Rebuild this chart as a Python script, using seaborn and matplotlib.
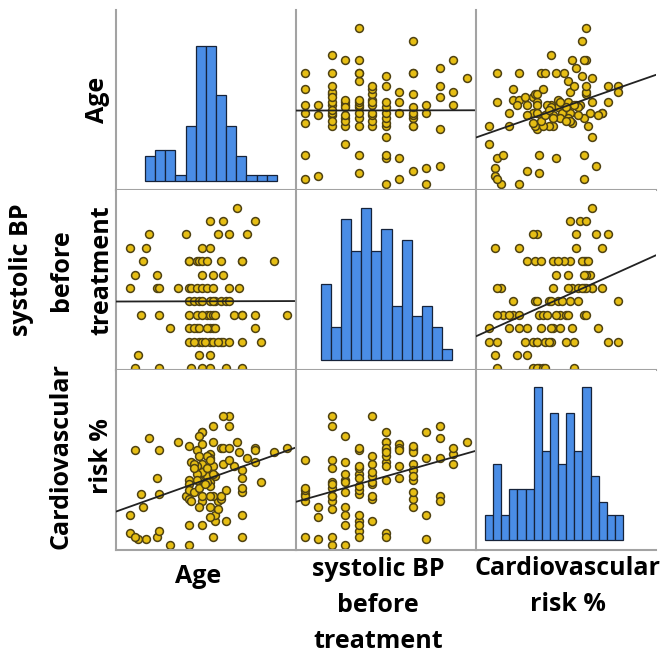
import matplotlib
matplotlib.use("Agg")
import matplotlib.pyplot as plt
import numpy as np
import pandas as pd
import seaborn as sns

# ---- data (one entry per subject) ----
age = [57,
       47, 52, 64,
       24, 38, 50, 54, 61,
       17, 23, 44, 47,
       22, 39, 42, 43, 44, 51, 59, 59, 71, 39, 46,
       27, 44, 52, 48, 19,
       17, 27, 28, 35, 39, 40, 42, 44, 46, 48, 54, 58,
       39, 41, 43, 47, 49, 51, 53, 54, 48, 44,
       21, 28, 39, 42, 46, 47, 48, 49, 56, 59, 59, 64, 76, 44,
       32, 39, 42, 47, 48, 64, 41, 43, 49, 46,
       39, 43, 44, 47, 48, 51, 52, 54, 59, 66, 41, 45, 50,
       20, 43, 47,
       19, 28, 40, 44, 47, 53, 59]
sbp = [165,
       160, 160, 160,
       155, 155, 155, 155, 155,
       150, 150, 150, 150,
       145, 145, 145, 145, 145, 145, 145, 145, 145, 145, 145,
       140, 140, 140, 140, 140,
       135, 135, 135, 135, 135, 135, 135, 135, 135, 135, 135, 135,
       130, 130, 130, 130, 130, 130, 130, 130, 130, 130,
       125, 125, 125, 125, 125, 125, 125, 125, 125, 125, 125, 125, 125, 125,
       120, 120, 120, 120, 120, 120, 120, 120, 120, 120,
       115, 115, 115, 115, 115, 115, 115, 115, 115, 115, 115, 115, 115,
       110, 110, 110,
       105, 105, 105, 105, 105, 105, 105]
risk = [26.5,
        23.5, 21.0, 25.0,
        27.5, 13.0, 12.0, 30.5, 22.5,
        8.5, 2.5, 29.0, 22.5,
        10.5, 12.5, 24.5, 17.0, 21.0, 25.0, 19.5, 14.0, 24.0, 25.5, 18.0,
        17.5, 26.0, 25.0, 20.5, 24.5,
        4.0, 3.0, 24.5, 26.5, 17.0, 21.5, 20.5, 29.0, 23.0, 26.5, 25.0, 24.0,
        16.0, 21.0, 23.0, 16.5, 18.0, 12.5, 7.0, 33.0, 13.0, 19.0,
        13.5, 4.5, 14.5, 18.5, 20.0, 15.5, 3.0, 7.0, 20.5, 17.5, 8.5, 24.5, 25.0, 6.0,
        1.0, 6.0, 17.0, 10.5, 18.5, 21.5, 14.0, 28.0, 8.5, 16.5,
        1.0, 15.0, 12.0, 13.0, 30.5, 13.0, 33.0, 22.0, 3.0, 16.5, 20.0, 16.0, 10.0,
        2.5, 10.5, 8.0,
        3.0, 13.5, 12.0, 13.0, 22.0, 14.5, 15.0]

variables = ["Age", "SBP", "Risk"]
labels = ["Age", "systolic BP\nbefore\ntreatment", "Cardiovascular\nrisk %"]
hist_edges = {
    "Age": [15 + 5 * i for i in range(14)],
    "SBP": [102.5 + 5 * i for i in range(14)],
    "Risk": [2 * i for i in range(18)],
}

df = pd.DataFrame({"Age": age, "SBP": sbp, "Risk": risk})

# axis ranges (style / layout)
scatter_x = {"Age": (11.75, 79.25), "SBP": (101.66, 168.45), "Risk": (-2.2, 42.4)}
scatter_y = {"Age": (14.73, 82.93), "SBP": (104.4, 171.6), "Risk": (-0.24, 44.3)}
hist_x = {"Age": (0.7, 89.4), "SBP": (90.3, 179.2), "Risk": (-2.2, 42.1)}
hist_y = {"Age": (-1.47, 27.9), "SBP": (-0.92, 15.63), "Risk": (-0.79, 13.36)}

sns.set_theme(style="white")
plt.rcParams["font.family"] = ["Open Sans", "DejaVu Sans"]

W, H = 664, 655
fig = plt.figure(figsize=(W / 100, H / 100), dpi=100)
col_x = [116, 296, 476]
row_y = [10, 190, 370]
S = 180

spine_col = "#a3a3a3"
bar_col = "#4a8de6"
pt_col = "#e6be14"
pt_edge = "#4f4212"

for r in range(3):
    for c in range(3):
        ax = fig.add_axes([col_x[c] / W, (H - row_y[r] - S) / H, S / W, S / H])
        vx, vy = variables[c], variables[r]
        if r == c:
            sns.histplot(data=df, x=vx, bins=hist_edges[vx], ax=ax,
                         color=bar_col, edgecolor="#16233a", linewidth=0.9,
                         alpha=1.0)
            ax.set_xlim(*hist_x[vx])
            ax.set_ylim(*hist_y[vx])
        else:
            sns.scatterplot(data=df, x=vx, y=vy, ax=ax, s=32,
                            color=pt_col, edgecolor=pt_edge, linewidth=1.1,
                            zorder=1)
            ax.set_xlim(*scatter_x[vx])
            ax.set_ylim(*scatter_y[vy])
            sns.regplot(data=df, x=vx, y=vy, ax=ax, scatter=False, ci=None,
                        truncate=False,
                        line_kws=dict(color="#222222", linewidth=1.3, zorder=3))
            ax.set_xlim(*scatter_x[vx])
            ax.set_ylim(*scatter_y[vy])
        ax.set_xticks([])
        ax.set_yticks([])
        ax.set_xlabel("")
        ax.set_ylabel("")
        for side in ("top", "right"):
            ax.spines[side].set_visible(False)
        for side in ("left", "bottom"):
            ax.spines[side].set_color(spine_col)
            ax.spines[side].set_linewidth(1.5)

# column labels
col_centers = [198, 378, 568]
col_tops = [564, 557, 556]
for lab, cx, ty in zip(labels, col_centers, col_tops):
    fig.text(cx / W, 1 - ty / H, lab, ha="center", va="top", fontsize=18,
             fontweight="bold", color="black", linespacing=1.58,
             multialignment="center")

# row labels
row_centers = [100, 270, 456]
row_right = [110, 114, 114]
for lab, cy, rx in zip(labels, row_centers, row_right):
    fig.text(rx / W, 1 - cy / H, lab, ha="right", va="center", fontsize=18,
             fontweight="bold", color="black", rotation=90, linespacing=1.8,
             multialignment="center")

fig.savefig("out.png", dpi=100)
